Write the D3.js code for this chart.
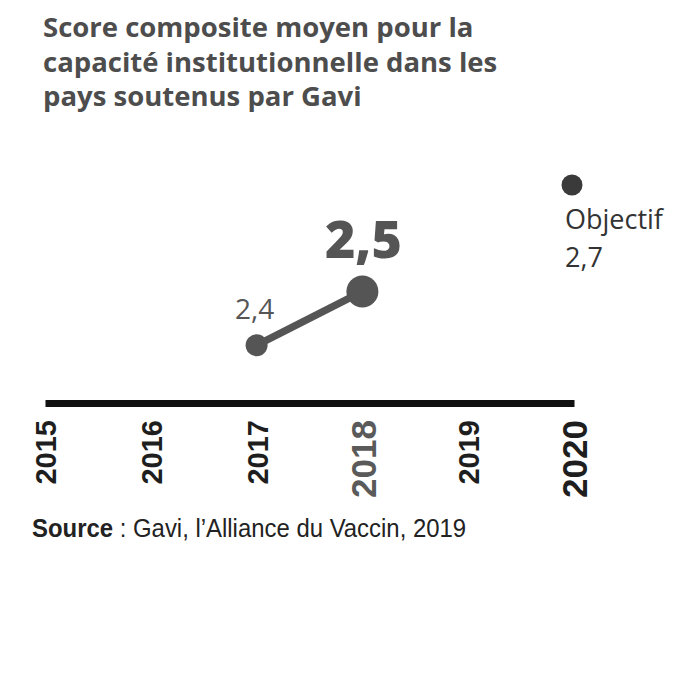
<!DOCTYPE html>
<html>
<head>
<meta charset="utf-8">
<script src="https://cdn.jsdelivr.net/npm/d3@7"></script>
<style>
  body { margin: 0; background: #fff; }
  svg { display: block; }
</style>
</head>
<body>
<svg id="chart" width="700" height="700"></svg>
<script>
// Données
const annees = [2015, 2016, 2017, 2018, 2019, 2020];
const anneesMesurees = [2017, 2018];
const scores = [2.4, 2.5];
const etiquettesScores = ["2,4", "2,5"];
const anneeObjectif = 2020;
const scoreObjectif = 2.7;
const etiquetteObjectif = ["Objectif", "2,7"];
const anneesEnGras = [2018, 2020];
const titre = ["Score composite moyen pour la", "capacité institutionnelle dans les", "pays soutenus par Gavi"];

const svg = d3.select("#chart");

const x = d3.scaleLinear().domain([2015, 2020]).range([45, 574]);
const y = d3.scaleLinear().domain([2.3, 2.7]).range([399, 184]);

// Titre
svg.append("text")
    .attr("x", 43)
    .attr("y", 37)
    .attr("font-family", "'Open Sans', sans-serif")
    .attr("font-weight", 700)
    .attr("font-size", 27.5)
    .attr("fill", "#4d4d4d")
    .selectAll("tspan")
    .data(titre)
    .join("tspan")
    .attr("x", 43)
    .attr("dy", (d, i) => i === 0 ? 0 : 34.5)
    .text(d => d);

// Axe horizontal
const axe = svg.append("g")
    .attr("transform", `translate(0,${y(2.3) + 4})`)
    .call(d3.axisBottom(x).tickValues(annees).tickSize(0).tickSizeOuter(0).tickFormat(d3.format("d")));

axe.select(".domain")
    .attr("stroke", "#111")
    .attr("stroke-width", 7);

axe.selectAll(".tick text")
    .attr("transform", "rotate(-90)")
    .attr("text-anchor", "end")
    .attr("x", -17)
    .attr("y", 0)
    .attr("dy", "0.36em")
    .attr("font-family", "'Liberation Sans', Arial, sans-serif")
    .attr("font-weight", 700)
    .attr("font-size", d => anneesEnGras.includes(d) ? 35 : 29)
    .attr("fill", d => d === 2018 ? "#5a5a5a" : "#1e1e1e");

// Ligne des scores
const points = anneesMesurees.map((a, i) => ({ annee: a, score: scores[i], etiquette: etiquettesScores[i] }));

svg.append("path")
    .datum(points)
    .attr("fill", "none")
    .attr("stroke", "#555")
    .attr("stroke-width", 7.5)
    .attr("d", d3.line().x(d => x(d.annee)).y(d => y(d.score)));

svg.selectAll(".point")
    .data(points)
    .join("circle")
    .attr("class", "point")
    .attr("cx", d => x(d.annee))
    .attr("cy", d => y(d.score))
    .attr("r", (d, i) => i === points.length - 1 ? 16 : 11)
    .attr("fill", "#555");

// Étiquettes des scores
svg.append("text")
    .attr("x", x(points[0].annee) - 2)
    .attr("y", y(points[0].score) - 26)
    .attr("text-anchor", "middle")
    .attr("font-family", "'Open Sans', sans-serif")
    .attr("font-size", 28)
    .attr("fill", "#555")
    .text(points[0].etiquette);

svg.append("text")
    .attr("x", x(points[1].annee) + 1)
    .attr("y", y(points[1].score) - 34)
    .attr("text-anchor", "middle")
    .attr("font-family", "'Open Sans', sans-serif")
    .attr("font-weight", 800)
    .attr("font-size", 52)
    .attr("fill", "#555")
    .text(points[1].etiquette);

// Objectif
svg.append("circle")
    .attr("cx", x(anneeObjectif) - 2)
    .attr("cy", y(scoreObjectif) + 1)
    .attr("r", 10.5)
    .attr("fill", "#3a3a3a");

svg.append("text")
    .attr("font-family", "'Open Sans', sans-serif")
    .attr("font-size", 27)
    .attr("fill", "#333")
    .selectAll("tspan")
    .data(etiquetteObjectif)
    .join("tspan")
    .attr("x", x(anneeObjectif) - 9)
    .attr("y", (d, i) => y(scoreObjectif) + 45 + i * 38)
    .text(d => d);

// Source (police étroite simulée par une mise à l'échelle horizontale)
const source = svg.append("text")
    .attr("transform", "translate(32,537) scale(0.92,1)")
    .attr("font-family", "'Liberation Sans Narrow', 'Liberation Sans', sans-serif")
    .attr("font-size", 26)
    .attr("fill", "#222");
source.append("tspan").attr("font-weight", 700).text("Source");
source.append("tspan").text(" : Gavi, l’Alliance du Vaccin, 2019");
</script>
</body>
</html>
